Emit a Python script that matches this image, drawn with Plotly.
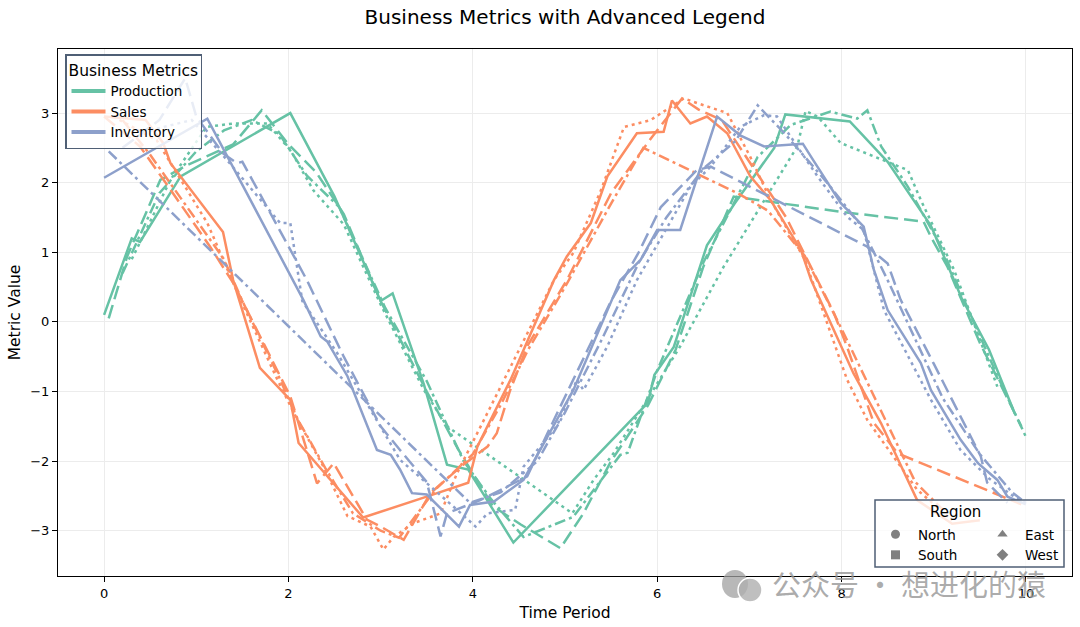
import plotly.graph_objects as go

# ---------------- data ----------------
metrics = ["Production", "Sales", "Inventory"]
regions = ["North", "South", "East", "West"]

prod_north_x = [0.0, 0.30, 0.39, 0.83, 2.02, 2.50, 3.00, 3.13, 3.47, 3.72, 3.95, 4.44, 5.90, 5.97, 6.18, 6.54, 6.84, 7.27, 7.39, 8.09, 8.50, 8.97, 9.30, 9.60, 9.88]
prod_north_y = [0.10, 1.20, 1.15, 2.09, 3.00, 1.80, 0.30, 0.41, -0.90, -2.05, -2.12, -3.17, -1.16, -0.76, -0.36, 1.10, 1.70, 2.50, 2.98, 2.88, 2.30, 1.38, 0.35, -0.40, -1.32]
prod_south_x = [0.05, 0.25, 0.61, 0.90, 1.40, 1.71, 2.00, 2.30, 2.60, 3.00, 3.50, 3.85, 4.22, 4.52, 4.95, 5.20, 5.50, 5.90, 6.20, 6.50, 6.83, 8.00, 8.89, 8.97, 9.15, 9.50, 9.95]
prod_south_y = [0.05, 0.94, 2.04, 2.25, 2.55, 3.04, 2.55, 2.15, 1.55, 0.30, -1.00, -1.85, -2.65, -2.91, -3.25, -2.75, -2.00, -1.20, -0.40, 0.79, 1.80, 1.58, 1.44, 1.22, 0.79, -0.30, -1.50]
prod_east_x = [0.30, 0.72, 1.11, 1.40, 1.77, 2.02, 2.27, 2.60, 3.00, 3.47, 3.72, 5.08, 5.31, 5.53, 5.89, 6.25, 6.72, 7.52, 7.61, 7.74, 7.99, 8.72, 8.86, 9.22, 9.69]
prod_east_y = [0.90, 2.04, 2.80, 2.85, 2.85, 2.47, 1.89, 1.40, 0.25, -0.98, -1.50, -2.75, -2.27, -1.88, -1.12, -0.35, 0.79, 2.52, 3.03, 2.95, 2.57, 2.18, 1.75, 0.75, -0.93]
prod_west_x = [0.20, 0.60, 1.00, 1.30, 1.60, 1.90, 2.20, 2.55, 3.05, 3.50, 3.90, 4.20, 4.55, 5.09, 5.60, 5.68, 6.00, 6.50, 7.09, 7.45, 7.88, 8.17, 8.28, 8.43, 8.72, 9.08, 9.40, 9.70, 10.00]
prod_west_y = [0.70, 1.85, 2.45, 2.75, 2.90, 2.70, 2.10, 1.65, 0.20, -0.85, -2.00, -2.55, -3.09, -2.80, -1.91, -1.88, -0.70, 0.85, 2.37, 2.83, 3.02, 2.92, 3.04, 2.52, 1.94, 1.08, 0.10, -0.80, -1.65]

sales_north_x = [0.00, 0.45, 0.64, 0.72, 1.29, 1.40, 1.69, 2.02, 2.11, 2.81, 3.50, 3.95, 4.05, 4.41, 4.88, 5.02, 5.28, 5.46, 5.78, 6.07, 6.16, 6.36, 6.54, 6.76, 7.01, 7.23, 7.56, 7.67, 8.13, 8.43, 8.82, 9.20, 9.50]
sales_north_y = [2.95, 2.90, 2.57, 2.28, 1.29, 0.60, -0.66, -1.12, -1.74, -2.81, -2.51, -2.31, -1.79, -0.83, 0.60, 0.94, 1.42, 2.09, 2.71, 2.73, 3.18, 2.85, 2.95, 2.71, 2.09, 1.75, 1.03, 0.60, -0.74, -1.46, -2.56, -2.90, -2.85]
sales_south_x = [0.00, 0.39, 0.72, 1.15, 1.40, 2.02, 2.31, 2.49, 2.85, 3.00, 3.25, 3.54, 3.87, 4.16, 4.26, 4.40, 4.59, 5.02, 5.50, 5.94, 6.27, 6.45, 6.70, 7.00, 7.40, 7.92, 8.06, 8.35, 8.61, 9.95]
sales_south_y = [2.95, 2.52, 1.90, 1.08, 0.56, -1.07, -2.32, -2.03, -2.84, -2.94, -3.13, -2.46, -2.08, -1.79, -1.60, -1.00, -0.35, 0.60, 1.85, 2.65, 3.21, 3.05, 2.90, 2.30, 1.50, 0.12, -0.36, -1.45, -1.89, -2.62]
sales_east_x = [0.10, 0.57, 1.12, 1.48, 1.88, 2.06, 2.38, 2.64, 2.89, 3.03, 3.14, 3.36, 3.65, 3.83, 4.20, 4.52, 4.88, 5.09, 5.39, 5.64, 5.93, 6.15, 6.29, 6.44, 6.76, 7.01, 7.23, 7.60, 8.06, 8.28, 8.82, 9.20]
sales_east_y = [2.95, 2.61, 1.42, 0.32, -0.83, -1.31, -2.08, -2.79, -2.94, -3.27, -3.09, -2.89, -2.75, -2.17, -1.20, -0.35, 0.60, 0.99, 1.89, 2.80, 2.90, 3.09, 3.21, 3.14, 3.00, 2.37, 1.75, 0.90, -0.83, -1.41, -2.41, -2.85]
sales_west_x = [0.20, 0.50, 0.90, 1.30, 1.50, 1.90, 2.10, 2.40, 2.70, 3.00, 3.20, 3.60, 4.00, 4.30, 4.60, 5.00, 5.50, 5.85, 6.87, 7.20, 7.60, 8.00, 8.40, 8.80, 9.10]
sales_west_y = [2.90, 2.40, 1.65, 0.90, 0.30, -0.80, -1.40, -2.10, -2.75, -3.00, -3.10, -2.40, -1.90, -1.20, -0.40, 0.50, 1.70, 2.50, 1.85, 1.60, 0.95, -0.10, -1.20, -2.30, -2.70]

inv_north_x = [0.00, 1.12, 2.16, 2.35, 2.42, 2.64, 2.96, 3.11, 3.21, 3.34, 3.50, 3.85, 3.97, 4.23, 4.55, 5.09, 5.60, 5.82, 6.00, 6.25, 6.65, 6.90, 7.16, 7.58, 7.67, 7.99, 8.24, 8.35, 8.50, 8.86, 8.97, 9.29, 9.48, 9.69, 9.80, 10.00]
inv_north_y = [2.07, 2.92, 0.32, -0.21, -0.28, -0.78, -1.84, -1.91, -2.12, -2.46, -2.48, -2.94, -2.63, -2.58, -2.27, -0.98, 0.60, 0.89, 1.32, 1.32, 2.95, 2.68, 2.52, 2.56, 2.37, 1.71, 1.37, 0.75, 0.17, -0.59, -0.98, -1.69, -2.03, -2.27, -2.51, -2.62]
inv_south_x = [0.20, 0.60, 0.88, 1.00, 1.29, 1.44, 1.50, 1.88, 2.20, 2.60, 3.00, 3.21, 3.50, 3.65, 3.72, 4.08, 4.37, 4.59, 4.81, 5.09, 5.50, 5.80, 6.04, 6.43, 6.58, 8.28, 8.50, 8.64, 9.00, 9.51, 9.58, 9.80]
inv_south_y = [2.50, 2.90, 3.50, 2.95, 2.42, 2.28, 2.30, 1.37, 0.60, -0.50, -1.50, -1.84, -2.30, -3.08, -2.75, -2.56, -2.36, -2.22, -1.60, -0.83, 0.30, 1.00, 1.65, 2.18, 2.23, 1.08, 0.84, 0.32, -0.60, -1.93, -2.31, -2.60]
inv_east_x = [0.50, 0.95, 1.33, 1.91, 2.02, 2.15, 2.53, 3.21, 3.83, 4.03, 4.16, 4.46, 4.55, 4.91, 5.13, 5.20, 5.46, 5.78, 6.36, 6.58, 6.90, 7.16, 7.30, 7.74, 8.06, 8.24, 8.46, 8.97, 9.29, 9.60, 9.87, 10.00]
inv_east_y = [2.75, 2.90, 2.33, 1.42, 1.42, 0.30, -0.45, -1.98, -2.70, -2.94, -2.75, -2.70, -2.08, -1.50, -0.83, -0.98, -0.35, 0.60, 1.94, 2.23, 2.80, 2.97, 2.95, 2.09, 1.51, 1.32, 0.17, -1.12, -1.84, -2.25, -2.51, -2.60]
inv_west_x = [0.05, 3.97, 4.30, 4.70, 5.00, 5.40, 5.80, 6.10, 6.50, 6.85, 7.09, 7.38, 7.85, 8.20, 8.50, 8.80, 9.10, 9.50, 9.85, 10.00]
inv_west_y = [2.45, -2.60, -2.45, -2.00, -1.30, -0.25, 0.85, 1.50, 2.20, 2.60, 3.11, 2.71, 1.99, 1.40, 0.60, -0.25, -1.10, -1.90, -2.45, -2.60]

x_ticks = [0, 2, 4, 6, 8, 10]
y_ticks = [-3, -2, -1, 0, 1, 2, 3]

# ---------------- styling ----------------
colors = {"Production": "#66c2a5", "Sales": "#fc8d62", "Inventory": "#8da0cb"}
dashes = {"North": "solid", "South": "14px,6px", "East": "3px,4px", "West": "11px,4px,3px,4px"}
symbols = {"North": "circle", "South": "square", "East": "triangle-up", "West": "diamond"}

series = {
    ("Production", "North"): (prod_north_x, prod_north_y),
    ("Production", "South"): (prod_south_x, prod_south_y),
    ("Production", "East"): (prod_east_x, prod_east_y),
    ("Production", "West"): (prod_west_x, prod_west_y),
    ("Sales", "North"): (sales_north_x, sales_north_y),
    ("Sales", "South"): (sales_south_x, sales_south_y),
    ("Sales", "East"): (sales_east_x, sales_east_y),
    ("Sales", "West"): (sales_west_x, sales_west_y),
    ("Inventory", "North"): (inv_north_x, inv_north_y),
    ("Inventory", "South"): (inv_south_x, inv_south_y),
    ("Inventory", "East"): (inv_east_x, inv_east_y),
    ("Inventory", "West"): (inv_west_x, inv_west_y),
}

FONT = "DejaVu Sans"
fig = go.Figure()

for (m, r), (xs, ys) in series.items():
    fig.add_trace(go.Scatter(
        x=xs, y=ys, mode="lines", showlegend=False, hoverinfo="skip",
        line=dict(color=colors[m], width=2.5, dash=dashes[r]),
    ))

# metric legend entries
for m in metrics:
    fig.add_trace(go.Scatter(
        x=[None], y=[None], mode="lines", name=m, legend="legend",
        line=dict(color=colors[m], width=4),
    ))

# region legend entries (two columns)
for r in regions:
    fig.add_trace(go.Scatter(
        x=[None], y=[None], mode="markers", name=r,
        legend="legend2" if r in ("North", "South") else "legend3",
        marker=dict(symbol=symbols[r], color="#808080", size=9),
    ))

L, R, T, B = 58, 8, 49, 51
W, H = 1080, 627
pw, ph = W - L - R, H - T - B


def px_x(p):
    return (p - L) / pw


def px_y(p):
    return (H - B - p) / ph


frame_col = "#4f5f75"

fig.update_layout(
    width=W, height=H,
    margin=dict(l=L, r=R, t=T, b=B, autoexpand=False),
    paper_bgcolor="white", plot_bgcolor="white",
    font=dict(family=FONT, color="#000000"),
    title=dict(text="Business Metrics with Advanced Legend", x=0.5, xref="paper",
               xanchor="center", y=1 - 17 / H, yanchor="middle",
               font=dict(family=FONT, size=20, color="#000000")),
    xaxis=dict(range=[-0.5, 10.5], tickvals=x_ticks, ticks="outside", ticklen=5,
               tickcolor="#000000", tickfont=dict(size=13), showline=True,
               linecolor="#000000", linewidth=1, mirror=True, showgrid=True,
               gridcolor="#ececec", gridwidth=1, zeroline=False,
               title=dict(text="Time Period", font=dict(size=15.5), standoff=7)),
    yaxis=dict(range=[-3.65, 3.92], tickvals=y_ticks, ticks="outside", ticklen=5,
               tickcolor="#000000", tickfont=dict(size=13), showline=True,
               linecolor="#000000", linewidth=1, mirror=True, showgrid=True,
               gridcolor="#ececec", gridwidth=1, zeroline=False,
               title=dict(text="Metric Value", font=dict(size=15.5), standoff=5)),
    legend=dict(x=px_x(65), y=px_y(54), xanchor="left", yanchor="top",
                bgcolor="rgba(255,255,255,0.8)", bordercolor=frame_col, borderwidth=1.5,
                font=dict(family=FONT, size=13.5),
                title=dict(text="Business Metrics", font=dict(family=FONT, size=15.5)),
                itemwidth=34, tracegroupgap=0),
    legend2=dict(x=px_x(873), y=px_y(519), xanchor="left", yanchor="top",
                 bgcolor="rgba(0,0,0,0)", borderwidth=0,
                 font=dict(family=FONT, size=13.5), itemwidth=35),
    legend3=dict(x=px_x(980), y=px_y(519), xanchor="left", yanchor="top",
                 bgcolor="rgba(0,0,0,0)", borderwidth=0,
                 font=dict(family=FONT, size=13.5), itemwidth=35),
    shapes=[
        dict(type="rect", xref="paper", yref="paper", layer="above",
             x0=px_x(875), x1=px_x(1064), y0=px_y(567), y1=px_y(500),
             fillcolor="rgba(255,255,255,0.8)", line=dict(color=frame_col, width=1.5)),
        # watermark icon
        dict(type="circle", xref="paper", yref="paper", layer="above",
             x0=px_x(722), x1=px_x(748), y0=px_y(598), y1=px_y(570),
             fillcolor="rgba(160,160,160,0.75)", line=dict(width=0)),
        dict(type="circle", xref="paper", yref="paper", layer="above",
             x0=px_x(738), x1=px_x(762), y0=px_y(602), y1=px_y(578),
             fillcolor="rgba(175,175,175,0.8)", line=dict(color="white", width=1.5)),
    ],
    annotations=[
        dict(text="Region", xref="paper", yref="paper", x=px_x(955), y=px_y(512),
             xanchor="center", yanchor="middle", showarrow=False,
             font=dict(family=FONT, size=15, color="#000000")),
        dict(text="公众号 · 想进化的猿", xref="paper", yref="paper",
             x=px_x(770), y=px_y(583), xanchor="left", yanchor="middle", showarrow=False,
             font=dict(family="Noto Sans CJK SC", size=29, color="rgba(150,150,150,0.8)")),
    ],
)

fig.write_html("out.html")
